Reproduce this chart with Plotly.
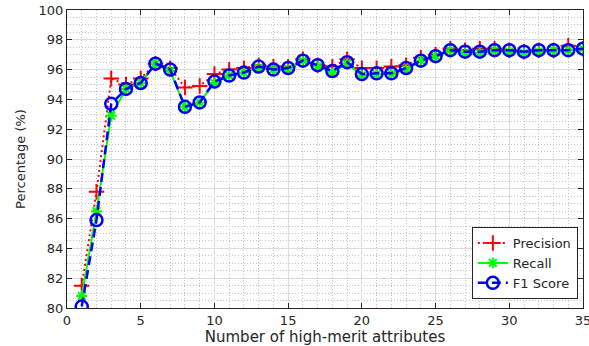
import plotly.graph_objects as go

# Number of high-merit attributes used
n_attributes = list(range(1, 36))

# Classification metrics (%) for each attribute count
precision = [81.5, 87.8, 95.4, 95.0, 95.4, 96.4, 96.1, 94.8, 94.9, 95.7,
             96.0, 96.1, 96.3, 96.2, 96.2, 96.7, 96.3, 96.2, 96.7, 96.1,
             96.1, 96.2, 96.3, 96.8, 97.0, 97.4, 97.3, 97.4, 97.4, 97.3,
             97.2, 97.3, 97.3, 97.6, 97.4]
recall = [80.8, 86.5, 92.9, 94.7, 95.1, 96.4, 95.9, 93.5, 93.8, 95.1,
          95.6, 95.8, 96.1, 96.0, 96.0, 96.6, 96.2, 95.8, 96.4, 95.6,
          95.7, 95.7, 96.0, 96.6, 96.9, 97.3, 97.1, 97.1, 97.3, 97.2,
          97.1, 97.2, 97.3, 97.3, 97.4]
f1_score = [80.1, 85.9, 93.7, 94.7, 95.1, 96.4, 96.0, 93.5, 93.8, 95.2,
            95.6, 95.8, 96.2, 96.0, 96.1, 96.6, 96.3, 95.9, 96.5, 95.7,
            95.75, 95.75, 96.1, 96.6, 96.9, 97.3, 97.2, 97.2, 97.3, 97.3,
            97.2, 97.3, 97.3, 97.3, 97.4]

x_ticks = [0, 5, 10, 15, 20, 25, 30, 35]
y_ticks = [80, 82, 84, 86, 88, 90, 92, 94, 96, 98, 100]

FONT = "DejaVu Sans"
AXIS_COLOR = "#262626"
GRID_COLOR = "#dcdcdc"
MINOR_GRID_COLOR = "#c4c4c4"

fig = go.Figure()

fig.add_trace(go.Scatter(
    x=n_attributes, y=precision, name="Precision", mode="lines+markers",
    line=dict(color="#ff0000", width=2, dash="2px,3px"),
    marker=dict(symbol="cross-thin-open", size=11, color="#ff0000",
                line=dict(color="#ff0000", width=2)),
))
fig.add_trace(go.Scatter(
    x=n_attributes, y=recall, name="Recall", mode="lines+markers",
    line=dict(color="#00ff00", width=2),
    marker=dict(symbol="asterisk-open", size=9, color="#00ff00",
                line=dict(color="#00ff00", width=2)),
))
fig.add_trace(go.Scatter(
    x=n_attributes, y=f1_score, name="F1 Score", mode="lines+markers",
    line=dict(color="#0000ff", width=2.5, dash="9px,5px"),
    marker=dict(symbol="circle-open", size=12, color="#0000ff",
                line=dict(color="#0000ff", width=2.5)),
))

axis_common = dict(
    showline=True, linecolor=AXIS_COLOR, linewidth=1, mirror="ticks",
    ticks="inside", ticklen=5, tickcolor=AXIS_COLOR, tickwidth=1,
    showgrid=True, gridcolor=GRID_COLOR, gridwidth=1, zeroline=False,
    tickfont=dict(family=FONT, size=13, color=AXIS_COLOR),
    ticklabeloverflow="allow",
)

fig.update_xaxes(
    range=[0, 35], tickvals=x_ticks, ticktext=[str(v) for v in x_ticks],
    title=dict(text="Number of high-merit attributes",
               font=dict(family=FONT, size=15, color=AXIS_COLOR), standoff=2),
    minor=dict(dtick=1, showgrid=True, gridcolor=MINOR_GRID_COLOR,
               griddash="1px,2px", gridwidth=1),
    **axis_common,
)
fig.update_yaxes(
    range=[80, 100], tickvals=y_ticks, ticktext=[str(v) for v in y_ticks],
    title=dict(text="Percentage (%)",
               font=dict(family=FONT, size=13, color=AXIS_COLOR), standoff=10),
    minor=dict(dtick=0.5, showgrid=True, gridcolor=MINOR_GRID_COLOR,
               griddash="1px,2px", gridwidth=1),
    **axis_common,
)

fig.update_layout(
    width=589, height=346,
    margin=dict(l=67, r=6, t=10, b=38, autoexpand=False),
    paper_bgcolor="white", plot_bgcolor="white",
    showlegend=True,
    legend=dict(
        x=0.99, y=0.03, xanchor="right", yanchor="bottom",
        bgcolor="white", bordercolor=AXIS_COLOR, borderwidth=1,
        font=dict(family=FONT, size=13, color=AXIS_COLOR),
        tracegroupgap=0, itemwidth=30,
    ),
)

fig.write_html("out.html")
